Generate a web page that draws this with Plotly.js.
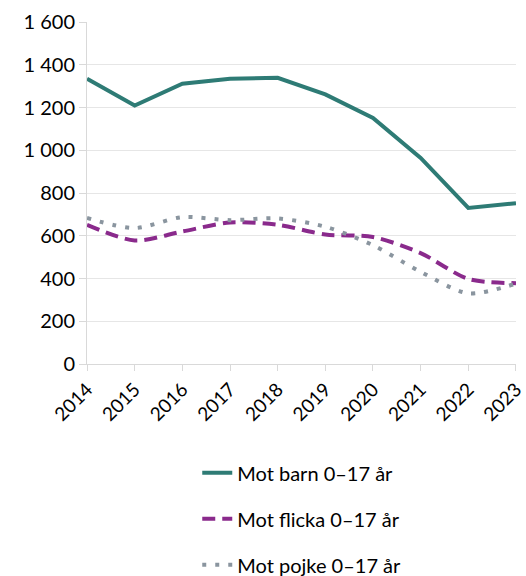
<!DOCTYPE html>
<html><head><meta charset="utf-8">
<script src="https://cdn.plot.ly/plotly-3.0.1.min.js"></script>
<style>body{margin:0}#c{width:526px;height:576px}</style>
</head><body><div id="c"></div>
<script>
const years = [2014,2015,2016,2017,2018,2019,2020,2021,2022,2023];
const barn   = [1335,1209,1311,1334,1339,1261,1151,964,730,752];
const flicka = [651,578,620,662,651,606,594,519,398,378];
const pojke  = [683,636,687,673,681,642,556,431,331,376];
const names = ['Mot barn 0–17 år','Mot flicka 0–17 år','Mot pojke 0–17 år'];
const colors = ['#2E7B75','#8A2A8C','#8A959F'];

const traces = [
  {x: years, y: barn, name: names[0], mode:'lines', legendgroup:'a',
   line:{color:colors[0], width:4}},
  {x: years, y: flicka, name: names[1], mode:'lines', legendgroup:'b',
   line:{color:colors[1], width:4, dash:'13px,7px', shape:'spline', smoothing:0.8}},
  {x: years, y: pojke, name: names[2], mode:'lines', legendgroup:'c',
   line:{color:colors[2], width:4, dash:'4px,9px', shape:'spline', smoothing:0.8}}
];
const layout = {
  width:526, height:576,
  margin:{l:87, r:10, t:22, b:212, autoexpand:false},
  paper_bgcolor:'#fff', plot_bgcolor:'#fff',
  font:{family:'Lato, "Open Sans", sans-serif', size:20, color:'#000'},
  showlegend:true,
  legend:{orientation:'v', xref:'container', yref:'container',
          x:0.375, xanchor:'left', y:0.213, yanchor:'top',
          tracegroupgap:17, font:{size:20}},
  xaxis:{range:[2013.9995,2023.0005], tickmode:'array', tickvals:years, ticktext:years.map(String),
         tickangle:-45, tickfont:{size:19},
         showgrid:false, showline:true, linecolor:'#d9d9d9', linewidth:1,
         ticks:'outside', ticklen:6, tickcolor:'#d9d9d9', zeroline:false, fixedrange:true,
         automargin:false, ticklabeloverflow:'allow'},
  yaxis:{range:[0,1600], dtick:200, tickformat:',d',
         showgrid:true, gridcolor:'#e6e6e6', gridwidth:1,
         showline:true, linecolor:'#d9d9d9', ticks:'outside', ticklen:7, tickcolor:'#d9d9d9',
         zeroline:false, fixedrange:true, automargin:false},
  separators:', '
};
Plotly.newPlot('c', traces, layout, {displayModeBar:false, staticPlot:true});
</script></body></html>
